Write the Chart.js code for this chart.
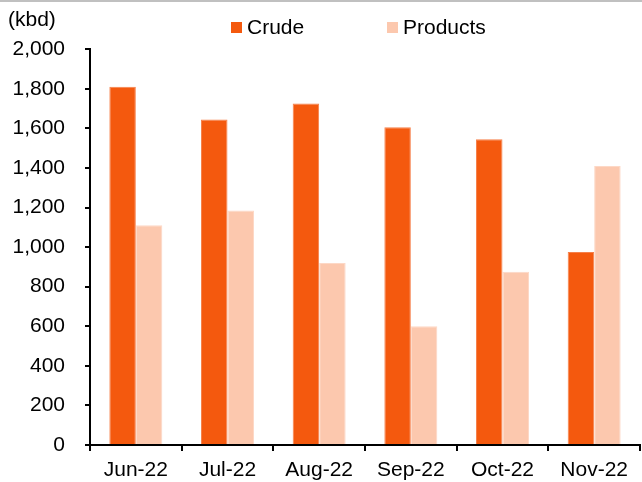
<!DOCTYPE html>
<html>
<head>
<meta charset="utf-8">
<script src="https://cdn.jsdelivr.net/npm/chart.js@4"></script>
<style>
  html, body { margin: 0; padding: 0; background: #fff; }
  #wrap { position: relative; width: 642px; height: 482px; }
</style>
</head>
<body>
<div id="wrap"><canvas id="exportsChart" width="642" height="482"></canvas></div>
<script>
// Monthly exports, kbd
const months = ['Jun-22', 'Jul-22', 'Aug-22', 'Sep-22', 'Oct-22', 'Nov-22'];
const crude = [1810, 1645, 1725, 1605, 1545, 975];
const products = [1110, 1185, 920, 600, 875, 1410];
const yTicks = [0, 200, 400, 600, 800, 1000, 1200, 1400, 1600, 1800, 2000];

const CRUDE_COLOR = '#F4590E';
const PRODUCTS_COLOR = '#FCC8AE';
const FONT = 'Liberation Sans, Arial, sans-serif';

Chart.defaults.font.family = FONT;
Chart.defaults.font.size = 21;
Chart.defaults.color = '#000';

// Thin grey rule along the top edge plus the two-item legend
const decorations = {
    id: 'decorations',
    beforeDraw(chart) {
        const ctx = chart.ctx;
        ctx.save();
        ctx.fillStyle = '#c0c0c0';
        ctx.fillRect(0, 0, chart.width, 2);
        ctx.restore();
    },
    afterDraw(chart) {
        const ctx = chart.ctx;
        const items = [
            { x: 231, ds: chart.data.datasets[0] },
            { x: 387, ds: chart.data.datasets[1] }
        ];
        ctx.save();
        ctx.font = '21px ' + FONT;
        ctx.textBaseline = 'middle';
        ctx.textAlign = 'left';
        items.forEach(it => {
            ctx.fillStyle = it.ds.backgroundColor;
            ctx.fillRect(it.x, 22, 11, 11);
            ctx.fillStyle = '#000';
            ctx.fillText(it.ds.label, it.x + 16, 28);
        });
        ctx.restore();
    }
};

new Chart(document.getElementById('exportsChart'), {
    type: 'bar',
    data: {
        labels: months,
        datasets: [
            {
                label: 'Crude',
                data: crude,
                backgroundColor: CRUDE_COLOR,
                borderColor: '#F6804A',
                borderWidth: { top: 1, left: 1, right: 1, bottom: 0 },
                categoryPercentage: 0.578,
                barPercentage: 1.0
            },
            {
                label: 'Products',
                data: products,
                backgroundColor: PRODUCTS_COLOR,
                borderColor: '#FDD8C6',
                borderWidth: { top: 1, left: 1, right: 1, bottom: 0 },
                categoryPercentage: 0.578,
                barPercentage: 1.0
            }
        ]
    },
    options: {
        responsive: false,
        animation: false,
        layout: { padding: { left: 8, right: 2, top: 0, bottom: 0 } },
        plugins: {
            legend: { display: false },
            tooltip: { enabled: false },
            title: {
                display: true,
                text: '(kbd)',
                align: 'start',
                color: '#000',
                font: { size: 21, weight: 'normal' },
                padding: { top: 8, bottom: 16 }
            }
        },
        scales: {
            x: {
                offset: true,
                grid: {
                    offset: true,
                    drawOnChartArea: false,
                    drawTicks: true,
                    tickLength: 6,
                    color: '#000',
                    lineWidth: 2
                },
                border: { display: true, color: '#000', width: 2 },
                ticks: { padding: 7, maxRotation: 0, autoSkip: false },
                afterFit: s => { s.height = 37; }
            },
            y: {
                min: 0,
                max: 2000,
                afterBuildTicks: s => { s.ticks = yTicks.map(v => ({ value: v })); },
                grid: {
                    drawOnChartArea: false,
                    drawTicks: true,
                    tickLength: 5,
                    color: '#000',
                    lineWidth: 2
                },
                border: { display: true, color: '#000', width: 2 },
                ticks: {
                    padding: 20,
                    callback: v => v.toLocaleString('en-US')
                },
                afterFit: s => { s.width = 82; }
            }
        }
    },
    plugins: [decorations]
});
</script>
</body>
</html>
